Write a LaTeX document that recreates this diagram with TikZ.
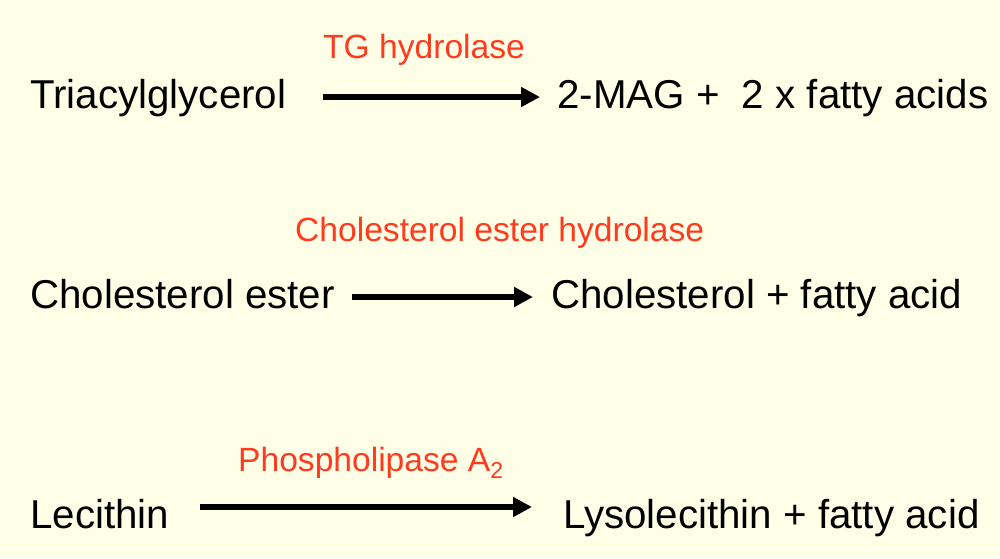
\documentclass[tikz,border=0pt]{standalone}
\usepackage{fontspec}
\setmainfont{Liberation Sans}
\usetikzlibrary{arrows.meta}
\definecolor{bg}{HTML}{FFFFE8}
\definecolor{enz}{HTML}{FF3B1F}
\begin{document}
\begin{tikzpicture}[x=1pt,y=-1pt,
  chem/.style={anchor=base west,inner sep=0pt,font=\fontsize{40.3}{44}\selectfont},
  enzyme/.style={anchor=base west,inner sep=0pt,text=enz,font=\fontsize{33.6}{38}\selectfont},
  rxn/.style={line width=6pt,-{Triangle[length=19pt,width=19pt]}}]
\fill[bg] (0,0) rectangle (1000,558);
\useasboundingbox (0,0) rectangle (1000,558);
% row 1
\node[chem] (tg) at (30,108) {Triacylglycerol};
\node[chem] (mag) at (557,108) {2-MAG +\ \ 2 x fatty acids};
\node[enzyme] (tgh) at (323,58) {TG hydrolase};
\coordinate (a1s) at (323,97);
\coordinate (a1e) at (540,97);
\draw[rxn] (a1s) -- (a1e);
% row 2
\node[chem] (ce) at (30,308) {Cholesterol ester};
\node[chem] (chol) at (551,308) {Cholesterol + fatty acid};
\node[enzyme] (ceh) at (295,241) {Cholesterol ester hydrolase};
\coordinate (a2s) at (352,297);
\coordinate (a2e) at (533,297);
\draw[rxn] (a2s) -- (a2e);
% row 3
\node[chem] (lec) at (30,528) {Lecithin};
\node[chem] (lyso) at (563,528) {Lysolecithin + fatty acid};
\node[enzyme] (pla) at (238,471) {Phospholipase A\raisebox{-7pt}{\fontsize{23}{26}\selectfont 2}};
\coordinate (a3s) at (200,507);
\coordinate (a3e) at (532,507);
\draw[rxn] (a3s) -- (a3e);
\end{tikzpicture}
\end{document}
